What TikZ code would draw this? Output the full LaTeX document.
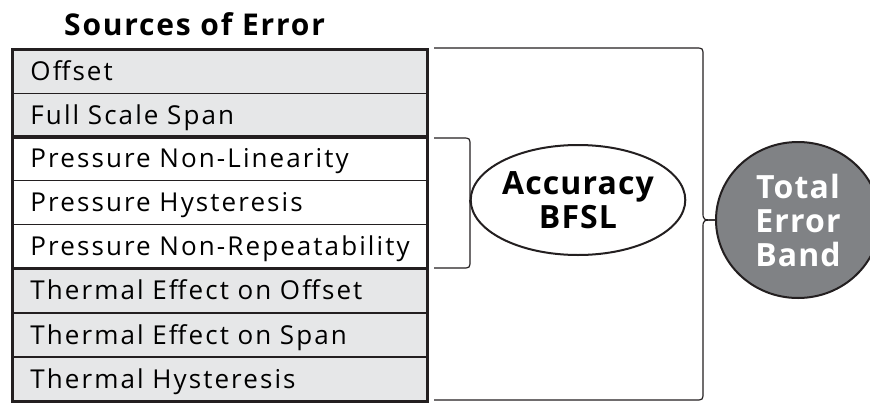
\documentclass[tikz,border=0pt]{standalone}
\usepackage{fontspec}
\setmainfont{Open Sans}[LetterSpace=8]
\newfontfamily\titlefont{Open Sans}[LetterSpace=6]
\newfontfamily\ovalfont{Open Sans}[LetterSpace=3.5]
\usetikzlibrary{shapes.geometric}
\definecolor{rowgray}{HTML}{E6E7E8}
\definecolor{linedark}{HTML}{231F20}
\definecolor{bandgray}{HTML}{808285}
\tikzset{
  rowbox/.style={draw=linedark, line width=1pt, anchor=north west, minimum width=414pt, minimum height=43.5pt,
     inner xsep=18pt, inner ysep=0pt, text width=378pt, align=left, text height=19pt, text depth=0pt,
     font=\fontsize{26}{26}\selectfont},
  grayrow/.style={rowbox, fill=rowgray},
  whiterow/.style={rowbox, fill=white},
  groupbox/.style={draw=linedark, line width=3pt},
  brace/.style={draw=linedark, line width=1.2pt},
  oval/.style={ellipse, draw=linedark, line width=2pt, inner sep=0pt, align=center,
     font=\ovalfont\bfseries\fontsize{32}{34}\selectfont},
}
\begin{document}
\begin{tikzpicture}[x=1pt,y=-1pt]
\useasboundingbox (0,0) rectangle (870,402);
\node[anchor=base west, inner sep=0pt, font=\titlefont\bfseries\fontsize{30}{30}\selectfont] (title) at (64,35) {Sources of Error};
\node[grayrow] (r1) at (12,49) {Offset};
\node[grayrow] (r2) at (12,92.5) {Full Scale Span};
\node[whiterow] (r3) at (12,136) {Pressure Non-Linearity};
\node[whiterow] (r4) at (12,180) {Pressure Hysteresis};
\node[whiterow] (r5) at (12,224) {Pressure Non-Repeatability};
\node[grayrow] (r6) at (12,268) {Thermal Effect on Offset};
\node[grayrow] (r7) at (12,312.5) {Thermal Effect on Span};
\node[grayrow] (r8) at (12,357) {Thermal Hysteresis};
\draw[groupbox] (r1.north west) rectangle (r2.south east);
\draw[groupbox] (r3.north west) rectangle (r5.south east);
\draw[groupbox] (r6.north west) rectangle (r8.south east);
\node[oval, fill=white, minimum width=189pt, minimum height=110pt] (acc) at (578,200) {Accuracy\\BFSL};
\node[oval, fill=bandgray, text=white, minimum width=164pt, minimum height=156pt] (teb) at (798,220) {Total\\Error\\Band};
\coordinate (sa) at (434,138);
\coordinate (sb) at (434,268);
\coordinate (la) at (434,48);
\coordinate (lb) at (434,400);
\draw[brace] (sa) -- (462,138) .. controls (470,138) .. (470,146) -- (470,194) .. controls (470,202) .. (acc.west);
\draw[brace] (sb) -- (462,268) .. controls (470,268) .. (470,260) -- (470,210) .. controls (470,202) .. (acc.west);
\draw[brace] (la) -- (695,48) .. controls (703,48) .. (703,56) -- (703,212) .. controls (703,220) .. (teb.west);
\draw[brace] (lb) -- (695,400) .. controls (703,400) .. (703,392) -- (703,228) .. controls (703,220) .. (teb.west);
\end{tikzpicture}
\end{document}
